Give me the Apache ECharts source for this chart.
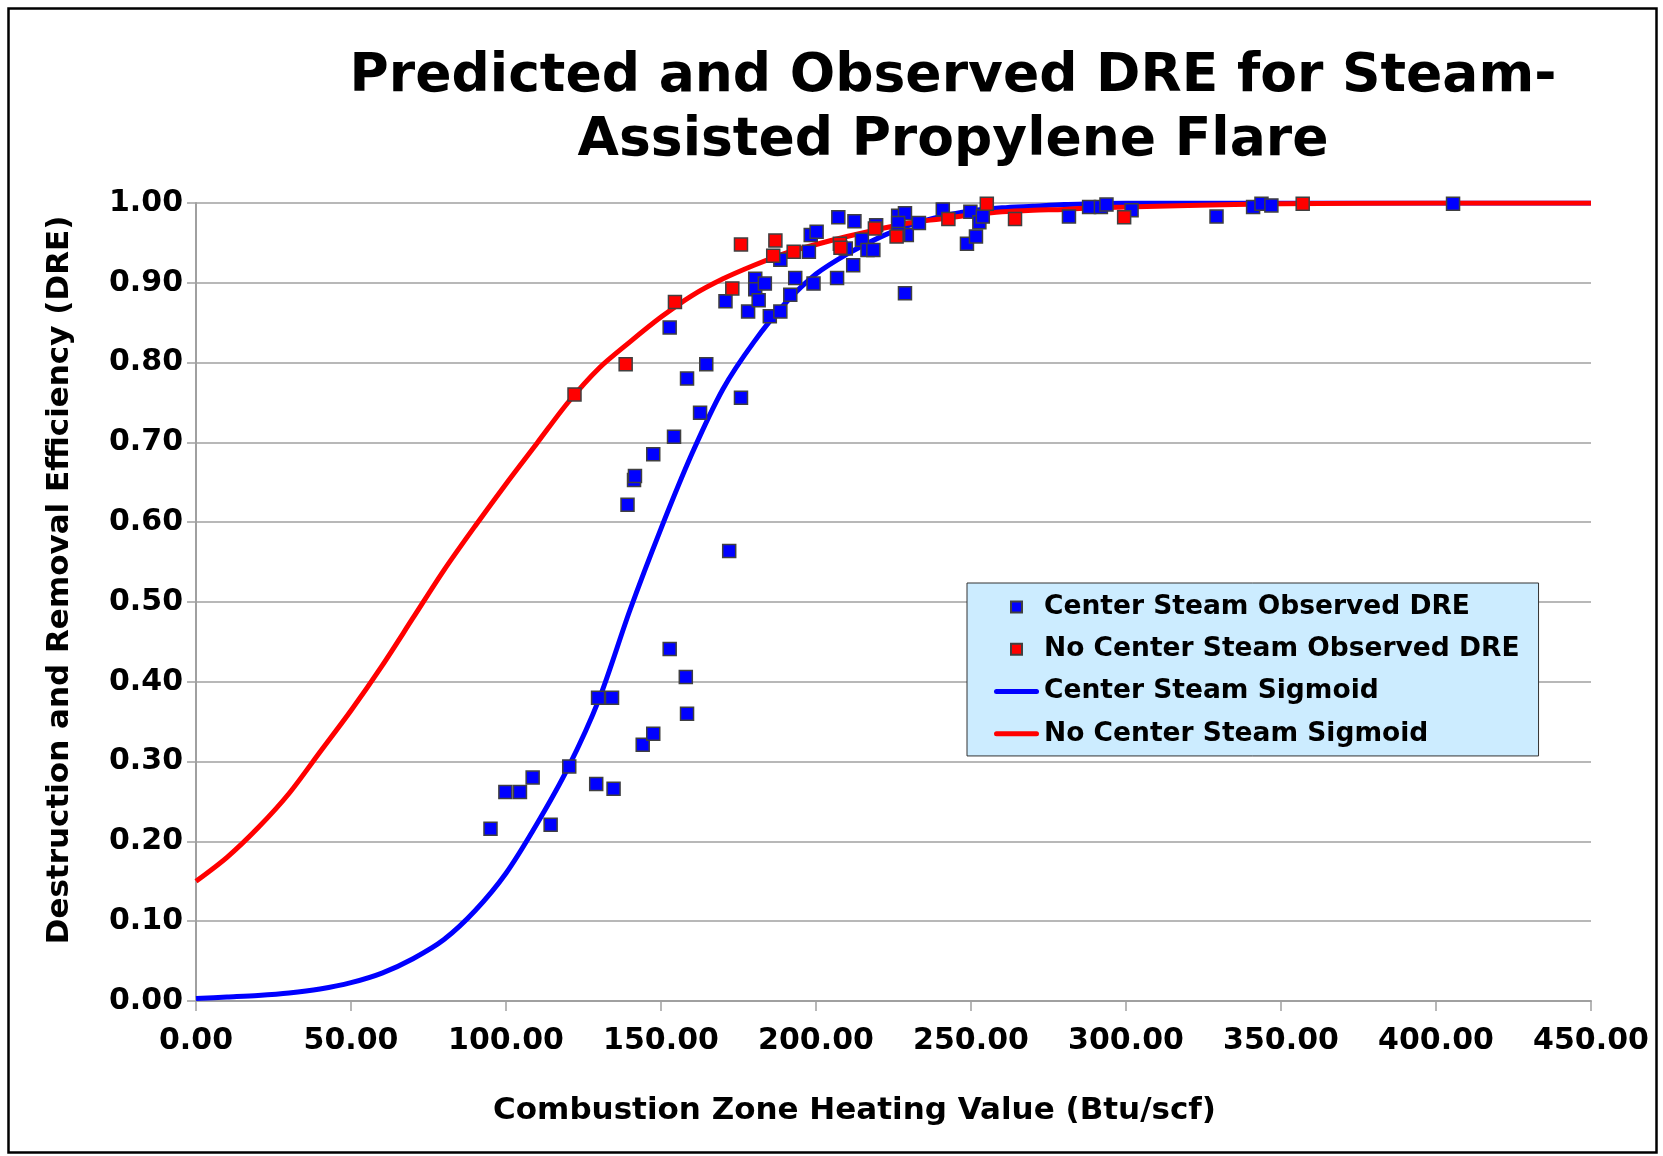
<html>
<head>
    <script src="https://cdn.jsdelivr.net/npm/echarts@6/dist/echarts.min.js"></script>
    <style>
        body { margin: 0; background: #fff; }
        #main { width: 1663px; height: 1156px; }
    </style>
</head>
<body>
    <div id="main"></div>
    <script>
        // observed DRE, [heating value, DRE]
        var centerObs = [
            [95.0, 0.216], [99.8, 0.262], [104.5, 0.262], [108.6, 0.280], [114.4, 0.221],
            [120.4, 0.294], [129.1, 0.272], [134.7, 0.266], [129.7, 0.380], [134.2, 0.380],
            [144.1, 0.321], [147.5, 0.335], [152.8, 0.441], [158.0, 0.406], [158.4, 0.360],
            [139.2, 0.622], [141.3, 0.653], [141.6, 0.658], [147.5, 0.685], [154.2, 0.707],
            [162.6, 0.737], [175.8, 0.756], [158.4, 0.780], [164.6, 0.798], [172.0, 0.564],
            [152.8, 0.844], [170.8, 0.877], [178.1, 0.864], [180.4, 0.905], [180.4, 0.892],
            [181.5, 0.878], [183.5, 0.899], [185.1, 0.858], [188.5, 0.864], [191.7, 0.885],
            [193.3, 0.906], [188.5, 0.929], [197.7, 0.939], [199.2, 0.899], [198.3, 0.960],
            [200.2, 0.964], [207.2, 0.982], [206.8, 0.906], [209.6, 0.943], [212.0, 0.922],
            [212.4, 0.977], [214.8, 0.954], [216.6, 0.941], [218.5, 0.941], [219.4, 0.972],
            [226.5, 0.984], [228.7, 0.987], [226.5, 0.975], [229.3, 0.960], [226.5, 0.961],
            [228.7, 0.887], [233.2, 0.975], [240.9, 0.992], [248.7, 0.949], [249.8, 0.989],
            [251.6, 0.958], [252.7, 0.976], [253.8, 0.983], [281.6, 0.983], [288.1, 0.995],
            [291.9, 0.995], [293.7, 0.998], [301.8, 0.991], [329.2, 0.983], [341.0, 0.995],
            [343.7, 0.999], [346.9, 0.997], [405.5, 0.999]
        ];
        var noCenterObs = [
            [122.1, 0.760], [138.6, 0.798], [154.5, 0.876], [173.0, 0.893], [175.8, 0.948],
            [186.2, 0.934], [186.9, 0.953], [192.8, 0.939], [207.7, 0.949], [207.9, 0.944],
            [219.0, 0.968], [226.0, 0.958], [242.7, 0.980], [255.1, 0.999], [264.2, 0.980],
            [299.4, 0.982], [357.0, 0.999]
        ];

        // sigmoid curves
        var curveX = [0, 10, 20, 30, 40, 50, 60, 70, 80, 90, 100, 110, 120, 130, 140, 150, 160, 170, 180, 190,
            200, 210, 220, 230, 240, 250, 260, 270, 280, 290, 300, 320, 350, 400, 450];
        var centerFit = [0.003, 0.005, 0.007, 0.010, 0.015, 0.023, 0.035, 0.053, 0.077, 0.113,
            0.160, 0.222, 0.292, 0.378, 0.490, 0.592, 0.686, 0.767, 0.826, 0.874,
            0.911, 0.936, 0.956, 0.972, 0.983, 0.990, 0.994, 0.996, 0.998, 0.999,
            1.000, 1.000, 1.000, 1.000, 1.000];
        var noCenterFit = [0.150, 0.180, 0.217, 0.260, 0.312, 0.364, 0.420, 0.480, 0.540, 0.595,
            0.648, 0.699, 0.750, 0.793, 0.826, 0.857, 0.884, 0.905, 0.922, 0.937,
            0.948, 0.958, 0.967, 0.975, 0.980, 0.985, 0.989, 0.991, 0.992, 0.994,
            0.995, 0.997, 0.999, 1.000, 1.000];

        var seriesNames = ['Center Steam Observed DRE', 'No Center Steam Observed DRE',
            'Center Steam Sigmoid', 'No Center Steam Sigmoid'];

        function pairs(xs, ys) {
            return xs.map(function (x, i) { return [x, ys[i]]; });
        }

        var font = 'DejaVu Sans';
        var gridColor = '#a0a0a0';
        var square = 'path://M0 0H10V10H0Z';
        var bar = 'path://M2.5 0H42.5A2.5 2.5 0 0 1 42.5 5H2.5A2.5 2.5 0 0 1 2.5 0Z';

        var myChart = echarts.init(document.getElementById('main'));

        var option = {
            backgroundColor: '#fff',
            animation: false,
            title: {
                text: 'Predicted and Observed DRE for Steam-\nAssisted Propylene Flare',
                left: 948,
                top: 40,
                textAlign: 'center',
                textStyle: {
                    fontFamily: font,
                    fontWeight: 'bold',
                    fontSize: 53.5,
                    lineHeight: 64,
                    color: '#000'
                }
            },
            graphic: [{
                type: 'rect',
                shape: { x: 8.5, y: 8.5, width: 1648, height: 1144 },
                style: { fill: 'none', stroke: '#000', lineWidth: 2.5 },
                silent: true
            }],
            legend: {
                orient: 'vertical',
                left: 967,
                top: 583,
                data: [
                    { name: seriesNames[0], icon: square },
                    { name: seriesNames[1], icon: square },
                    { name: seriesNames[2], icon: bar },
                    { name: seriesNames[3], icon: bar }
                ],
                itemWidth: 45,
                itemHeight: 11,
                itemGap: -14,
                padding: [-4, 19, -6, 27],
                backgroundColor: '#CCECFF',
                borderColor: '#333',
                borderWidth: 1,
                borderRadius: 0,
                textStyle: {
                    fontFamily: font,
                    fontWeight: 'bold',
                    fontSize: 26.5,
                    lineHeight: 30,
                    color: '#000'
                }
            },
            grid: { left: 196, top: 203, width: 1395, height: 798 },
            xAxis: {
                type: 'value',
                min: 0,
                max: 450,
                interval: 50,
                name: 'Combustion Zone Heating Value (Btu/scf)',
                nameLocation: 'middle',
                nameGap: 62,
                nameTextStyle: {
                    fontFamily: font, fontWeight: 'bold', fontSize: 31, color: '#000',
                    padding: [0, 78, 0, 0]
                },
                axisLine: { lineStyle: { color: gridColor, width: 2 } },
                axisTick: { show: true, length: 10, lineStyle: { color: gridColor, width: 1.5 } },
                axisLabel: {
                    margin: 8,
                    fontFamily: font,
                    fontWeight: 'bold',
                    fontSize: 30,
                    color: '#000',
                    formatter: function (v) { return v.toFixed(2); }
                },
                splitLine: { show: false }
            },
            yAxis: {
                type: 'value',
                min: 0,
                max: 1,
                interval: 0.1,
                name: 'Destruction and Removal Efficiency (DRE)',
                nameLocation: 'middle',
                nameRotate: 90,
                nameGap: 103,
                nameTextStyle: {
                    fontFamily: font, fontWeight: 'bold', fontSize: 31, color: '#000',
                    padding: [0, 0, 0, 44]
                },
                axisLine: { show: true, lineStyle: { color: gridColor, width: 2 } },
                axisTick: { show: true, length: 9, lineStyle: { color: gridColor, width: 1.5 } },
                axisLabel: {
                    margin: 13,
                    fontFamily: font,
                    fontWeight: 'bold',
                    fontSize: 30,
                    color: '#000',
                    formatter: function (v) { return v.toFixed(2); }
                },
                splitLine: { show: true, lineStyle: { color: gridColor, width: 1.5 } }
            },
            series: [{
                name: seriesNames[0],
                type: 'scatter',
                symbol: 'rect',
                symbolSize: 13,
                z: 3,
                itemStyle: { color: '#0000ff', borderColor: '#404040', borderWidth: 1.5, opacity: 1 },
                data: centerObs
            }, {
                name: seriesNames[1],
                type: 'scatter',
                symbol: 'rect',
                symbolSize: 13,
                z: 4,
                itemStyle: { color: '#ff0000', borderColor: '#404040', borderWidth: 1.5, opacity: 1 },
                data: noCenterObs
            }, {
                name: seriesNames[2],
                type: 'line',
                showSymbol: false,
                symbol: 'none',
                smooth: 0.3,
                z: 2,
                itemStyle: { color: '#0000ff' },
                lineStyle: { color: '#0000ff', width: 5 },
                data: pairs(curveX, centerFit)
            }, {
                name: seriesNames[3],
                type: 'line',
                showSymbol: false,
                symbol: 'none',
                smooth: 0.3,
                z: 2,
                itemStyle: { color: '#ff0000' },
                lineStyle: { color: '#ff0000', width: 5 },
                data: pairs(curveX, noCenterFit)
            }]
        };

        myChart.setOption(option);
    </script>
</body>
</html>
